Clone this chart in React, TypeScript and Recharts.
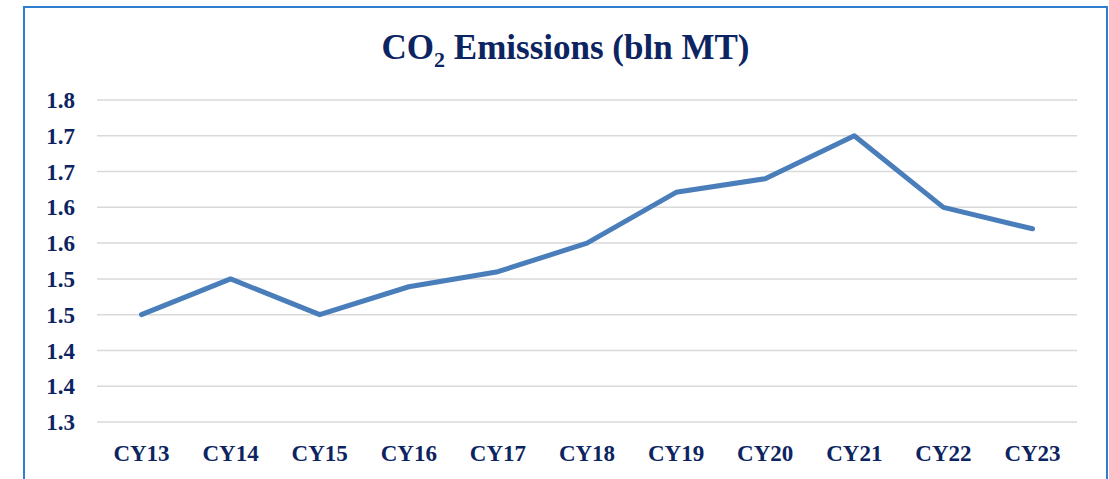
import React from 'react';
import { LineChart, Line, CartesianGrid, XAxis, YAxis } from 'recharts';

const years = ['CY13', 'CY14', 'CY15', 'CY16', 'CY17', 'CY18', 'CY19', 'CY20', 'CY21', 'CY22', 'CY23'];
const emissions = [1.45, 1.5, 1.45, 1.489, 1.51, 1.55, 1.621, 1.64, 1.7, 1.6, 1.57];
const yTicks = [1.3, 1.35, 1.4, 1.45, 1.5, 1.55, 1.6, 1.65, 1.7, 1.75];
const yTickLabels = ['1.3', '1.4', '1.4', '1.5', '1.5', '1.6', '1.6', '1.7', '1.7', '1.8'];

const navy = '#0c2461';
const font = '"Liberation Serif", "DejaVu Serif", serif';

const App = () => {
    const data = years.map((year, i) => ({ year, value: emissions[i] }));
    const tickStyle = { fill: navy, fontSize: 23, fontWeight: 700, fontFamily: font };

    return (
        <div style={{ position: 'absolute', left: 0, top: 0, width: 1109, height: 479, overflow: 'hidden', background: '#fff' }}>
            <div style={{ position: 'absolute', left: 23, top: 6, width: 1081, height: 490, border: '2px solid #2f7fd0' }} />
            <div style={{ position: 'absolute', left: 25, top: 30, width: 1081, textAlign: 'center', fontFamily: font, fontWeight: 700, fontSize: 35, lineHeight: '35px', color: navy, whiteSpace: 'nowrap' }}>
                CO<span style={{ fontSize: 22, position: 'relative', top: 8 }}>2</span> Emissions (bln MT)
            </div>
            <div style={{ position: 'absolute', left: 0, top: 0 }}>
                <LineChart width={1109} height={479} data={data} margin={{ top: 100, right: 32, bottom: 0, left: 0 }}>
                    <CartesianGrid vertical={false} stroke="#d9d9d9" strokeWidth={1.5} />
                    <XAxis
                        dataKey="year"
                        axisLine={false}
                        tickLine={false}
                        tickSize={0}
                        tickMargin={23}
                        height={57}
                        tick={tickStyle}
                        interval={0}
                        padding={{ left: 44.5, right: 44.5 }}
                    />
                    <YAxis
                        domain={[1.3, 1.75]}
                        ticks={yTicks}
                        tickFormatter={(v: number) => yTickLabels[yTicks.indexOf(v)] ?? String(v)}
                        axisLine={false}
                        tickLine={false}
                        tickSize={0}
                        tickMargin={22}
                        width={97}
                        tick={tickStyle}
                        interval={0}
                    />
                    <Line type="linear" dataKey="value" stroke="#4a7ebb" strokeWidth={5} strokeLinecap="round" strokeLinejoin="round" dot={false} isAnimationActive={false} />
                </LineChart>
            </div>
        </div>
    );
};

export default App;
